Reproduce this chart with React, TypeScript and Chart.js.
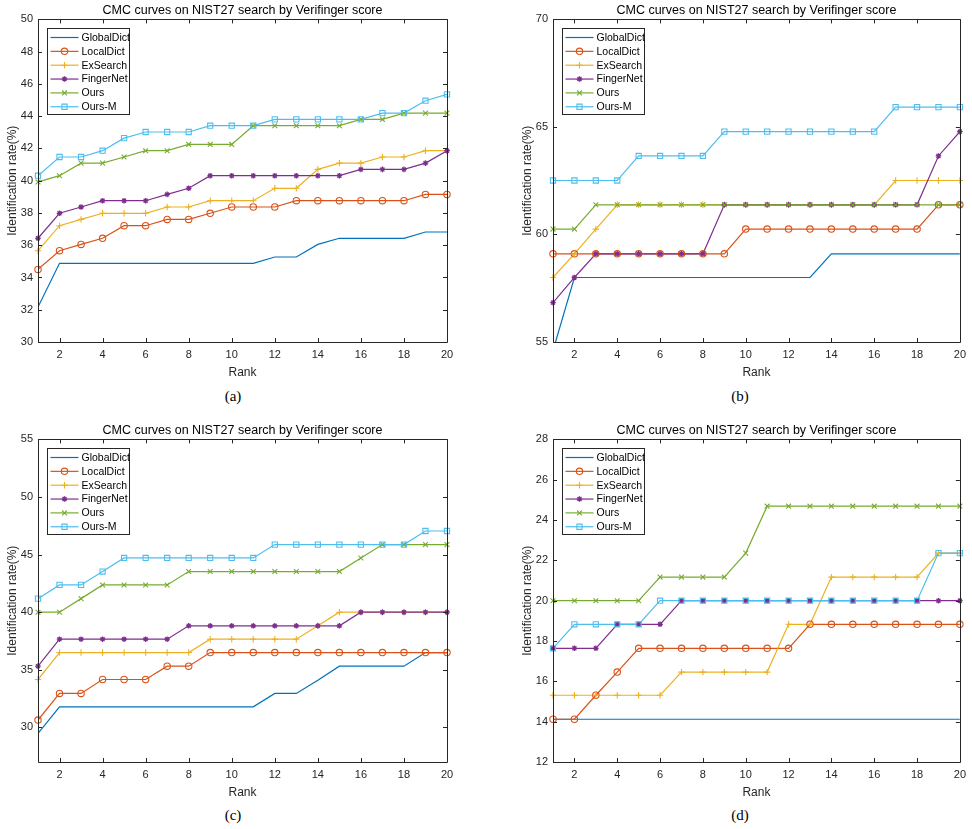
import React, { useEffect, useRef } from "react";
import { Chart, registerables } from "chart.js";

Chart.register(...registerables);

// ---------- data ----------
const ranks = [1, 2, 3, 4, 5, 6, 7, 8, 9, 10, 11, 12, 13, 14, 15, 16, 17, 18, 19, 20];
const xTickValues = [2, 4, 6, 8, 10, 12, 14, 16, 18, 20];
const seriesNames = ["GlobalDict", "LocalDict", "ExSearch", "FingerNet", "Ours", "Ours-M"];
const chartTitle = "CMC curves on NIST27 search by Verifinger score";
const xAxisTitle = "Rank";
const yAxisTitle = "Identification rate(%)";
const captions = ["(a)", "(b)", "(c)", "(d)"];

// panel (a)
const aGlobalDict = [32.17, 34.88, 34.88, 34.88, 34.88, 34.88, 34.88, 34.88, 34.88, 34.88, 34.88, 35.27, 35.27, 36.05, 36.43, 36.43, 36.43, 36.43, 36.82, 36.82];
const aLocalDict = [34.5, 35.66, 36.05, 36.43, 37.21, 37.21, 37.6, 37.6, 37.98, 38.37, 38.37, 38.37, 38.76, 38.76, 38.76, 38.76, 38.76, 38.76, 39.15, 39.15];
const aExSearch = [35.66, 37.21, 37.6, 37.98, 37.98, 37.98, 38.37, 38.37, 38.76, 38.76, 38.76, 39.53, 39.53, 40.7, 41.09, 41.09, 41.47, 41.47, 41.86, 41.86];
const aFingerNet = [36.43, 37.98, 38.37, 38.76, 38.76, 38.76, 39.15, 39.53, 40.31, 40.31, 40.31, 40.31, 40.31, 40.31, 40.31, 40.7, 40.7, 40.7, 41.09, 41.86];
const aOurs = [39.92, 40.31, 41.09, 41.09, 41.47, 41.86, 41.86, 42.25, 42.25, 42.25, 43.41, 43.41, 43.41, 43.41, 43.41, 43.8, 43.8, 44.19, 44.19, 44.19];
const aOursM = [40.31, 41.47, 41.47, 41.86, 42.64, 43.02, 43.02, 43.02, 43.41, 43.41, 43.41, 43.8, 43.8, 43.8, 43.8, 43.8, 44.19, 44.19, 44.96, 45.35];
const aYTicks = [30, 32, 34, 36, 38, 40, 42, 44, 46, 48, 50];

// panel (b)
const bGlobalDict = [54.6, 58.0, 58.0, 58.0, 58.0, 58.0, 58.0, 58.0, 58.0, 58.0, 58.0, 58.0, 58.0, 59.1, 59.1, 59.1, 59.1, 59.1, 59.1, 59.1];
const bLocalDict = [59.1, 59.1, 59.1, 59.1, 59.1, 59.1, 59.1, 59.1, 59.1, 60.25, 60.25, 60.25, 60.25, 60.25, 60.25, 60.25, 60.25, 60.25, 61.38, 61.38];
const bExSearch = [58.0, 59.1, 60.25, 61.38, 61.38, 61.38, 61.38, 61.38, 61.38, 61.38, 61.38, 61.38, 61.38, 61.38, 61.38, 61.38, 62.51, 62.51, 62.51, 62.51];
const bFingerNet = [56.83, 58.0, 59.1, 59.1, 59.1, 59.1, 59.1, 59.1, 61.38, 61.38, 61.38, 61.38, 61.38, 61.38, 61.38, 61.38, 61.38, 61.38, 63.65, 64.78];
const bOurs = [60.25, 60.25, 61.38, 61.38, 61.38, 61.38, 61.38, 61.38, 61.38, 61.38, 61.38, 61.38, 61.38, 61.38, 61.38, 61.38, 61.38, 61.38, 61.38, 61.38];
const bOursM = [62.51, 62.51, 62.51, 62.51, 63.65, 63.65, 63.65, 63.65, 64.78, 64.78, 64.78, 64.78, 64.78, 64.78, 64.78, 64.78, 65.92, 65.92, 65.92, 65.92];
const bYTicks = [55, 60, 65, 70];

// panel (c)
const cGlobalDict = [29.48, 31.79, 31.79, 31.79, 31.79, 31.79, 31.79, 31.79, 31.79, 31.79, 31.79, 32.95, 32.95, 34.1, 35.32, 35.32, 35.32, 35.32, 36.5, 36.5];
const cLocalDict = [30.64, 32.95, 32.95, 34.16, 34.16, 34.16, 35.32, 35.32, 36.5, 36.5, 36.5, 36.5, 36.5, 36.5, 36.5, 36.5, 36.5, 36.5, 36.5, 36.5];
const cExSearch = [34.16, 36.5, 36.5, 36.5, 36.5, 36.5, 36.5, 36.5, 37.66, 37.66, 37.66, 37.66, 37.66, 38.82, 40.0, 40.0, 40.0, 40.0, 40.0, 40.0];
const cFingerNet = [35.32, 37.66, 37.66, 37.66, 37.66, 37.66, 37.66, 38.82, 38.82, 38.82, 38.82, 38.82, 38.82, 38.82, 38.82, 40.0, 40.0, 40.0, 40.0, 40.0];
const cOurs = [40.0, 40.0, 41.18, 42.37, 42.37, 42.37, 42.37, 43.53, 43.53, 43.53, 43.53, 43.53, 43.53, 43.53, 43.53, 44.71, 45.87, 45.87, 45.87, 45.87];
const cOursM = [41.18, 42.37, 42.37, 43.53, 44.71, 44.71, 44.71, 44.71, 44.71, 44.71, 44.71, 45.87, 45.87, 45.87, 45.87, 45.87, 45.87, 45.87, 47.05, 47.05];
const cYTicks = [30, 35, 40, 45, 50, 55];

// panel (d)
const dGlobalDict = [14.12, 14.12, 14.12, 14.12, 14.12, 14.12, 14.12, 14.12, 14.12, 14.12, 14.12, 14.12, 14.12, 14.12, 14.12, 14.12, 14.12, 14.12, 14.12, 14.12];
const dLocalDict = [14.12, 14.12, 15.31, 16.46, 17.64, 17.64, 17.64, 17.64, 17.64, 17.64, 17.64, 17.64, 18.83, 18.83, 18.83, 18.83, 18.83, 18.83, 18.83, 18.83];
const dExSearch = [15.31, 15.31, 15.31, 15.31, 15.31, 15.31, 16.46, 16.46, 16.46, 16.46, 16.46, 18.83, 18.83, 21.17, 21.17, 21.17, 21.17, 21.17, 22.36, 22.36];
const dFingerNet = [17.64, 17.64, 17.64, 18.83, 18.83, 18.83, 20.0, 20.0, 20.0, 20.0, 20.0, 20.0, 20.0, 20.0, 20.0, 20.0, 20.0, 20.0, 20.0, 20.0];
const dOurs = [20.0, 20.0, 20.0, 20.0, 20.0, 21.17, 21.17, 21.17, 21.17, 22.36, 24.69, 24.69, 24.69, 24.69, 24.69, 24.69, 24.69, 24.69, 24.69, 24.69];
const dOursM = [17.64, 18.83, 18.83, 18.83, 18.83, 20.0, 20.0, 20.0, 20.0, 20.0, 20.0, 20.0, 20.0, 20.0, 20.0, 20.0, 20.0, 20.0, 22.36, 22.36];
const dYTicks = [12, 14, 16, 18, 20, 22, 24, 26, 28];

// ---------- styles ----------
const COLORS = ["#0072BD", "#D95319", "#EDB120", "#7E2F8E", "#77AC30", "#4DBEEE"];
const MARKERS = ["none", "circle", "plus", "star", "x", "square"];
const AXIS_COLOR = "#262626";
const FONT = "'Liberation Sans', Arial, Helvetica, sans-serif";

type Panel = {
  series: number[][];
  yMin: number;
  yMax: number;
  yTicks: number[];
  left: number;
  top: number;
  width: number;
  padRight: number;
  caption: string;
  captionX: number;
  captionY: number;
};

const PANELS: Panel[] = [
  { series: [aGlobalDict, aLocalDict, aExSearch, aFingerNet, aOurs, aOursM], yMin: 30, yMax: 50, yTicks: aYTicks, left: 0, top: 0, width: 480, padRight: 33, caption: captions[0], captionX: 233, captionY: 396 },
  { series: [bGlobalDict, bLocalDict, bExSearch, bFingerNet, bOurs, bOursM], yMin: 55, yMax: 70, yTicks: bYTicks, left: 515, top: 0, width: 457, padRight: 10, caption: captions[1], captionX: 740, captionY: 396 },
  { series: [cGlobalDict, cLocalDict, cExSearch, cFingerNet, cOurs, cOursM], yMin: 27, yMax: 55, yTicks: cYTicks, left: 0, top: 420, width: 480, padRight: 33, caption: captions[2], captionX: 233, captionY: 815 },
  { series: [dGlobalDict, dLocalDict, dExSearch, dFingerNet, dOurs, dOursM], yMin: 12, yMax: 28, yTicks: dYTicks, left: 515, top: 420, width: 457, padRight: 10, caption: captions[3], captionX: 740, captionY: 815 },
];

const CANVAS_H = 380;

function drawMarker(ctx: CanvasRenderingContext2D, m: string, x: number, y: number, color: string) {
  ctx.save();
  ctx.strokeStyle = color;
  ctx.fillStyle = color;
  ctx.lineWidth = 1.1;
  ctx.beginPath();
  if (m === "circle") {
    ctx.arc(x, y, 3.2, 0, Math.PI * 2);
    ctx.stroke();
  } else if (m === "plus") {
    ctx.moveTo(x - 3.2, y); ctx.lineTo(x + 3.2, y);
    ctx.moveTo(x, y - 3.2); ctx.lineTo(x, y + 3.2);
    ctx.stroke();
  } else if (m === "x") {
    const r = 2.4;
    ctx.moveTo(x - r, y - r); ctx.lineTo(x + r, y + r);
    ctx.moveTo(x - r, y + r); ctx.lineTo(x + r, y - r);
    ctx.stroke();
  } else if (m === "star") {
    ctx.lineWidth = 1.3;
    const r = 2.8;
    for (let k = 0; k < 4; k++) {
      const a = (k * Math.PI) / 4;
      ctx.moveTo(x - r * Math.cos(a), y - r * Math.sin(a));
      ctx.lineTo(x + r * Math.cos(a), y + r * Math.sin(a));
    }
    ctx.stroke();
  } else if (m === "square") {
    ctx.rect(x - 2.6, y - 2.6, 5.2, 5.2);
    ctx.stroke();
  }
  ctx.restore();
}

const matlabPlugin = {
  id: "matlabBox",
  afterDatasetsDraw(chart: any) {
    const { ctx, chartArea } = chart;
    const { left, right, top, bottom } = chartArea;
    const xs = chart.scales.x;
    const ys = chart.scales.y;
    ctx.save();
    // title centred over the axes
    ctx.fillStyle = "#000000";
    ctx.font = "12.5px " + FONT;
    ctx.textAlign = "center";
    ctx.textBaseline = "middle";
    ctx.fillText(chartTitle, (left + right) / 2, top - 9);

    ctx.strokeStyle = AXIS_COLOR;
    ctx.lineWidth = 1;
    ctx.beginPath();
    ctx.rect(Math.round(left) + 0.5, Math.round(top) + 0.5, Math.round(right - left), Math.round(bottom - top));
    ctx.stroke();
    const tl = 4;
    ctx.beginPath();
    xTickValues.forEach((v) => {
      const px = Math.round(xs.getPixelForValue(v)) + 0.5;
      ctx.moveTo(px, bottom); ctx.lineTo(px, bottom - tl);
      ctx.moveTo(px, top); ctx.lineTo(px, top + tl);
    });
    (chart.options.yTickList as number[]).forEach((v) => {
      const py = Math.round(ys.getPixelForValue(v)) + 0.5;
      ctx.moveTo(left, py); ctx.lineTo(left + tl, py);
      ctx.moveTo(right, py); ctx.lineTo(right - tl, py);
    });
    ctx.stroke();

    // legend box inside the axes (MATLAB northwest)
    const bx = Math.round(left + 9) + 0.5;
    const by = Math.round(top + 9) + 0.5;
    const bw = 82;
    const bh = 86;
    ctx.fillStyle = "#ffffff";
    ctx.fillRect(bx, by, bw, bh);
    ctx.strokeStyle = AXIS_COLOR;
    ctx.lineWidth = 1;
    ctx.strokeRect(bx, by, bw, bh);
    ctx.font = "10.5px " + FONT;
    ctx.textBaseline = "middle";
    ctx.textAlign = "left";
    chart.data.datasets.forEach((ds: any, i: number) => {
      const ry = by + 9 + i * 13.85;
      ctx.strokeStyle = ds.borderColor;
      ctx.lineWidth = 1.2;
      ctx.beginPath();
      ctx.moveTo(bx + 3, ry); ctx.lineTo(bx + 31, ry);
      ctx.stroke();
      drawMarker(ctx, MARKERS[i], bx + 17, ry, ds.borderColor);
      ctx.fillStyle = "#000000";
      ctx.fillText(ds.label, bx + 34, ry + 0.5);
    });
    ctx.restore();
  },
};

const markerPlugin = {
  id: "matlabMarkers",
  afterDatasetsDraw(chart: any) {
    const { ctx } = chart;
    ctx.save();
    ctx.beginPath();
    const a = chart.chartArea;
    ctx.rect(a.left - 4, a.top - 4, a.right - a.left + 8, a.bottom - a.top + 8);
    ctx.clip();
    chart.data.datasets.forEach((ds: any, i: number) => {
      if (MARKERS[i] === "none") return;
      const meta = chart.getDatasetMeta(i);
      meta.data.forEach((pt: any) => {
        drawMarker(ctx, MARKERS[i], pt.x, pt.y, ds.borderColor);
      });
    });
    ctx.restore();
  },
};

function PanelChart({ p }: { p: Panel }) {
  const ref = useRef<HTMLCanvasElement | null>(null);
  useEffect(() => {
    if (!ref.current) return;
    const datasets = p.series.map((vals, i) => ({
      label: seriesNames[i],
      data: ranks.map((r, k) => ({ x: r, y: vals[k] })),
      borderColor: COLORS[i],
      backgroundColor: COLORS[i],
      borderWidth: 1.2,
      pointRadius: 0,
      pointHoverRadius: 0,
      tension: 0,
      fill: false,
      order: 6 - i,
    }));
    const chart = new Chart(ref.current, {
      type: "line",
      data: { datasets },
      plugins: [markerPlugin, matlabPlugin],
      options: {
        yTickList: p.yTicks,
        responsive: false,
        animation: false,
        events: [],
        layout: { padding: { left: 0, right: p.padRight, top: 19.4, bottom: 0 } },
        plugins: {
          legend: { display: false },
          tooltip: { enabled: false },
          title: { display: false },
        },
        scales: {
          x: {
            type: "linear",
            min: 1,
            max: 20,
            grid: { display: false, drawTicks: false },
            border: { display: false },
            afterBuildTicks: (s: any) => {
              s.ticks = xTickValues.map((v) => ({ value: v }));
            },
            afterFit: (s: any) => {
              s.height = 38;
            },
            ticks: {
              autoSkip: false,
              maxRotation: 0,
              padding: 6,
              color: AXIS_COLOR,
              font: { family: FONT, size: 11 },
              callback: (v: any) => String(v),
            },
            title: {
              display: true,
              text: xAxisTitle,
              color: AXIS_COLOR,
              font: { family: FONT, size: 12 },
              padding: { top: 0, bottom: 0 },
            },
          },
          y: {
            type: "linear",
            min: p.yMin,
            max: p.yMax,
            grid: { display: false, drawTicks: false },
            border: { display: false },
            afterBuildTicks: (s: any) => {
              s.ticks = p.yTicks.map((v) => ({ value: v }));
            },
            afterFit: (s: any) => {
              s.width = 38;
            },
            ticks: {
              autoSkip: false,
              padding: 5,
              color: AXIS_COLOR,
              font: { family: FONT, size: 11 },
              callback: (v: any) => String(v),
            },
            title: {
              display: true,
              text: yAxisTitle,
              color: AXIS_COLOR,
              font: { family: FONT, size: 12 },
              padding: { top: 5, bottom: 0 },
            },
          },
        },
      } as any,
    });
    return () => chart.destroy();
  }, [p]);
  return (
    <canvas
      ref={ref}
      width={p.width}
      height={CANVAS_H}
      style={{ position: "absolute", left: p.left, top: p.top, width: p.width, height: CANVAS_H }}
    />
  );
}

export default function App() {
  return (
    <div style={{ position: "absolute", left: 0, top: 0, width: 972, height: 829, background: "#ffffff", overflow: "hidden" }}>
      {PANELS.map((p, i) => (
        <React.Fragment key={i}>
          <PanelChart p={p} />
          <div
            style={{
              position: "absolute",
              left: p.captionX - 30,
              top: p.captionY - 10,
              width: 60,
              height: 20,
              lineHeight: "20px",
              textAlign: "center",
              fontFamily: "'Liberation Serif', 'Times New Roman', serif",
              fontSize: 15,
              color: "#000",
            }}
          >
            {p.caption}
          </div>
        </React.Fragment>
      ))}
    </div>
  );
}
